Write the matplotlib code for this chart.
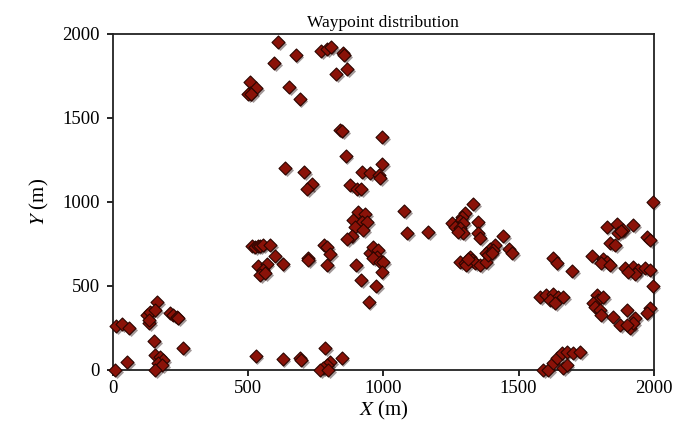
import matplotlib
matplotlib.use("Agg")
from matplotlib import pyplot as plt

# waypoint coordinates (m)
x_top = [610, 675, 595, 770, 790, 805, 850, 855, 825, 865,
         505, 530, 505, 500, 510, 650, 690,
         840, 848, 995, 860,
         635, 705, 735, 718,
         995, 920, 950, 982, 988,
         878, 902, 918]
y_top = [1955, 1875, 1830, 1900, 1910, 1920, 1885, 1875, 1760, 1790,
         1715, 1680, 1650, 1640, 1645, 1685, 1615,
         1430, 1425, 1385, 1275,
         1205, 1180, 1110, 1075,
         1225, 1180, 1170, 1160, 1140,
         1100, 1080, 1075]

x_mid = [905, 932, 888, 920, 938, 895, 925, 882, 866,
         950, 962, 981, 975, 962, 987, 1000, 993,
         898, 917, 972, 945,
         515, 525, 535, 545, 556, 580, 600, 627,
         537, 568, 556, 543, 562,
         720, 722, 780, 790, 802, 790]
y_mid = [940, 930, 890, 883, 882, 850, 833, 795, 778,
         695, 735, 715, 675, 665, 645, 645, 585,
         625, 535, 500, 405,
         740, 735, 740, 740, 745, 745, 680, 630,
         620, 630, 595, 565, 575,
         665, 655, 745, 735, 690, 625]

x_low = [164, 125, 137, 155, 134, 134,
         211, 223, 235, 241,
         11, 32, 60,
         152, 260, 51,
         155, 174, 186, 167, 180, 155, 7,
         527, 627, 691, 695, 784, 802, 790, 777, 765, 794, 845]
y_low = [405, 327, 347, 357, 282, 298,
         337, 327, 315, 307,
         262, 274, 248,
         170, 133, 50,
         89, 79, 60, 40, 30, 0, 0,
         85, 65, 70, 60, 133, 50, 30, 10, 0, 0, 74]

x_right_mid = [1076, 1089, 1166,
               1330, 1301, 1289, 1283, 1295, 1252, 1264, 1283, 1293, 1277,
               1348, 1350, 1357, 1443, 1412, 1394, 1381, 1465, 1474,
               1283, 1301, 1320, 1326, 1338, 1307, 1357, 1313, 1379, 1388, 1406, 1400]
y_right_mid = [945, 818, 819,
               986, 936, 912, 889, 873, 873, 853, 843, 814, 824,
               883, 814, 784, 796, 744, 718, 699, 718, 694,
               645, 635, 675, 655, 635, 625, 625, 659, 645, 685, 714, 694]

x_right = [1628, 1640, 1699,
           1579, 1603, 1628, 1646, 1665, 1616, 1634,
           1591, 1609, 1628, 1640, 1659, 1677, 1665, 1677, 1702, 1726,
           1825, 1862, 1887, 1924, 1868, 1880, 1837, 1856, 1973, 1985,
           1773, 1813, 1825, 1806, 1837,
           1893, 1924, 1942, 1967, 1985, 1930, 1905,
           1995, 1995,
           1788, 1794, 1776, 1782, 1800, 1806, 1813,
           1850, 1874, 1899, 1911, 1930, 1924, 1899,
           1985, 1973]
y_right = [665, 639, 591,
           436, 446, 452, 436, 432, 417, 397,
           0, 0, 40, 70, 99, 109, 10, 30, 99, 109,
           849, 869, 833, 863, 814, 825, 754, 744, 794, 774,
           679, 659, 645, 635, 625,
           605, 615, 595, 605, 595, 571, 585,
           500, 1000,
           446, 417, 397, 377, 357, 327, 436,
           317, 268, 357, 248, 307, 278, 268,
           367, 337]

xs = x_top + x_mid + x_low + x_right_mid + x_right
ys = y_top + y_mid + y_low + y_right_mid + y_right

ticks = [0, 500, 1000, 1500, 2000]

plt.rcParams['font.family'] = ['Liberation Serif', 'DejaVu Serif']
plt.rcParams['mathtext.fontset'] = 'stix'

fig = plt.figure(figsize=(6.89, 4.33), dpi=100)
ax = fig.add_axes([0.164, 0.1455, 0.785, 0.776])

# shadow pass then the markers, a rough take on the bevelled look
ax.scatter([v + 7 for v in xs], [v - 12 for v in ys], marker='D', s=44,
           color='#1a0000', alpha=0.4, linewidths=0, clip_on=False, zorder=2)
ax.scatter(xs, ys, marker='D', s=44, facecolor='#8a1208',
           edgecolor='#2b0500', linewidths=0.8, clip_on=False, zorder=3)

ax.set_xlim(0, 2000)
ax.set_ylim(0, 2000)
ax.set_xticks(ticks)
ax.set_yticks(ticks)
ax.tick_params(direction='out', length=4.5, width=1.2, labelsize=13.5,
               top=False, right=False, pad=5)
ax.tick_params(axis='x', pad=3)
for sp in ax.spines.values():
    sp.set_linewidth(1.3)
    sp.set_color('#222222')

ax.set_title('Waypoint distribution', fontsize=12.5, pad=5)
ax.set_xlabel(r'$\mathit{X}$ (m)', fontsize=15, labelpad=1)
ax.set_ylabel(r'$\mathit{Y}$ (m)', fontsize=15, labelpad=8)

plt.savefig('out.png', dpi=100)
plt.close()
